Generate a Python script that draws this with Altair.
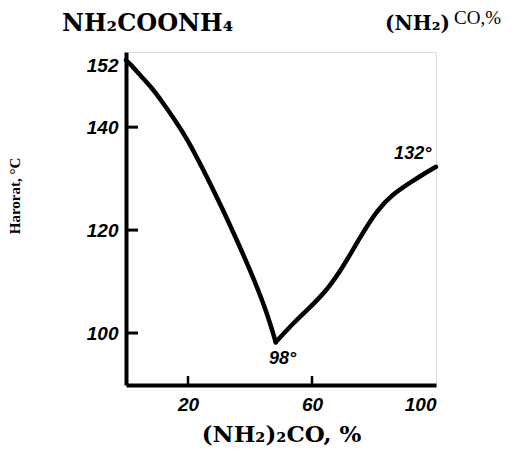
import altair as alt
import pandas as pd

# Curve data (urea %, temperature °C)
left_x = [0, 1.8, 4.5, 8.7, 11.9, 15.2, 19.7, 24.8, 30.3, 35.8, 41.0, 45.5, 48.3]
left_y = [153.0, 152.0, 150.1, 147.4, 144.7, 141.9, 137.8, 131.9, 125.2, 118.0, 110.9, 103.9, 98.2]
right_x = [48.3, 53.9, 59.4, 64.8, 70.0, 75.5, 81.0, 86.1, 91.6, 96.0, 100]
right_y = [98.2, 101.9, 105.0, 108.3, 112.8, 118.6, 123.9, 127.0, 129.2, 130.9, 132.3]

y_ticks = [100, 120, 140]
y_labels = [100, 120, 140, 152]
x_ticks = [20, 60]
x_labels = [20, 60, 100]

ann_text = ["98°", "132°"]
ann_x = [50.5, 98.5]
ann_y = [95.0, 134.8]
ann_align = ["center", "right"]

W, H = 310, 333

curve = pd.DataFrame({
    "x": left_x + right_x,
    "y": left_y + right_y,
    "branch": ["a"] * len(left_x) + ["b"] * len(right_x),
})

xs = alt.Scale(domain=[0, 100], nice=False, zero=False)
ys = alt.Scale(domain=[89.9, 154.6], nice=False, zero=False)

line = alt.Chart(curve).mark_line(
    color="black", strokeWidth=4.5, interpolate="basis", strokeCap="round", strokeJoin="round"
).encode(
    x=alt.X("x:Q", scale=xs, axis=alt.Axis(
        values=x_labels, title="(NH₂)₂CO, %", ticks=False, grid=False,
        domainColor="black", domainWidth=4,
        labelFont="Liberation Sans", labelFontWeight="bold", labelFontStyle="italic",
        labelFontSize=19, labelColor="black", labelPadding=10,
        titleFont="DejaVu Serif", titleFontWeight="bold", titleFontSize=23,
        titleColor="black", titlePadding=9,
    )),
    y=alt.Y("y:Q", scale=ys, axis=alt.Axis(
        values=y_labels, title=None, ticks=False, grid=False,
        domainColor="black", domainWidth=4,
        labelFont="Liberation Sans", labelFontWeight="bold", labelFontStyle="italic",
        labelFontSize=19, labelColor="black", labelPadding=8,
    )),
    detail="branch:N",
)

yt = alt.Chart(pd.DataFrame({"v": y_ticks})).mark_rule(color="black", strokeWidth=3).encode(
    y=alt.Y("v:Q", scale=ys), x=alt.value(0), x2=alt.value(12)
)
xt = alt.Chart(pd.DataFrame({"v": x_ticks})).mark_rule(color="black", strokeWidth=2.5).encode(
    x=alt.X("v:Q", scale=xs), y=alt.value(H), y2=alt.value(H - 9)
)

ann = alt.Chart(pd.DataFrame({"t": ann_text, "x": ann_x, "y": ann_y, "a": ann_align}))
ann_c = ann.transform_filter(alt.datum.a == "center").mark_text(
    font="Liberation Sans", fontWeight="bold", fontStyle="italic", fontSize=18,
    color="black", align="center", baseline="middle"
).encode(x=alt.X("x:Q", scale=xs), y=alt.Y("y:Q", scale=ys), text="t:N")
ann_r = ann.transform_filter(alt.datum.a == "right").mark_text(
    font="Liberation Sans", fontWeight="bold", fontStyle="italic", fontSize=18,
    color="black", align="right", baseline="middle"
).encode(x=alt.X("x:Q", scale=xs), y=alt.Y("y:Q", scale=ys), text="t:N")

one = pd.DataFrame({"k": [0]})
t1 = alt.Chart(one).mark_text(
    text="NH₂COONH₄", font="DejaVu Serif", fontWeight="bold", fontSize=24,
    color="black", align="left", baseline="alphabetic"
).encode(x=alt.value(-64), y=alt.value(-21))
t2 = alt.Chart(one).mark_text(
    text="(NH₂)", font="DejaVu Serif", fontWeight="bold", fontSize=20,
    color="black", align="left", baseline="alphabetic"
).encode(x=alt.value(259), y=alt.value(-22))
t3 = alt.Chart(one).mark_text(
    text="CO,%", font="Liberation Serif", fontSize=19,
    color="black", align="left", baseline="alphabetic"
).encode(x=alt.value(328), y=alt.value(-28))
ytitle = alt.Chart(one).mark_text(
    text="Harorat, °C", font="Liberation Serif", fontWeight="bold", fontSize=15,
    color="black", align="center", baseline="middle", angle=270
).encode(x=alt.value(-111), y=alt.value(144))

chart = alt.layer(line, yt, xt, ann_c, ann_r, t1, t2, t3, ytitle).properties(
    width=W, height=H,
    autosize=alt.AutoSizeParams(type="none"),
    padding={"left": 118, "top": 44, "right": 74, "bottom": 61},
).configure_view(stroke="black", strokeWidth=3).configure(background="white")

chart.save("out.html", embed_options={"renderer": "svg", "actions": False})
